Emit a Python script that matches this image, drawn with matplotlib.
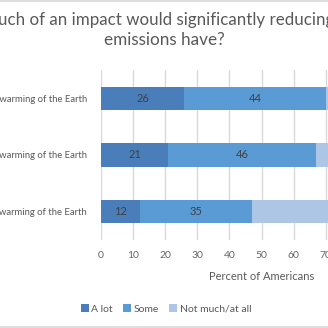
import matplotlib
matplotlib.use("Agg")
import matplotlib.pyplot as plt
from matplotlib.lines import Line2D
from matplotlib.patches import Patch

plt.rcParams['font.family'] = ['Lato', 'DejaVu Sans']

categories = [
    "U.S. alone on global warming of the Earth",
    "Developed nations on global warming of the Earth",
    "All nations on global warming of the Earth",
]
a_lot = [26, 21, 12]
some = [44, 46, 35]
not_much = [30, 33, 53]
series_names = ["A lot", "Some", "Not much/at all"]
colors = ["#4A7EBB", "#5B9BD5", "#ADC6E6"]
x_ticks = [0, 10, 20, 30, 40, 50, 60, 70, 80, 90, 100]

text_grey = "#595959"
W, H = 328, 328
fig = plt.figure(figsize=(W / 100, H / 100), dpi=100)

# plot area spans beyond the right edge of the canvas
ax = fig.add_axes([101 / W, 88 / H, 321 / W, 170 / H])

ypos = list(range(len(categories)))
left = [0] * len(categories)
for vals, name, col in zip([a_lot, some, not_much], series_names, colors):
    bars = ax.barh(ypos, vals, left=left, height=0.41, color=col, label=name, zorder=3)
    for b, v in zip(bars, vals):
        ax.text(b.get_x() + b.get_width() / 2, b.get_y() + b.get_height() / 2, str(v),
                ha="center", va="center", fontsize=8, color="#404040", zorder=4)
    left = [l + v for l, v in zip(left, vals)]

ax.set_xlim(0, 100)
ax.set_ylim(len(categories) - 0.5, -0.5)
ax.set_xticks(x_ticks)
ax.set_xticklabels([str(t) for t in x_ticks], fontsize=7.5, color="#666666")
ax.set_yticks(ypos)
ax.set_yticklabels(categories, fontsize=6.8, color=text_grey)
ax.tick_params(axis="both", length=0)
ax.tick_params(axis="x", pad=8)
ax.tick_params(axis="y", pad=10)
ax.grid(axis="x", color="#D9D9D9", linewidth=1, zorder=0)
for s in ax.spines.values():
    s.set_visible(False)
ax.set_xlabel("Percent of Americans", fontsize=8, color=text_grey, labelpad=8)

# title
fig.text(334 / W, 1 - 25 / H, "How much of an impact would significantly reducing",
         ha="right", va="baseline", fontsize=12.2, color=text_grey)
fig.text(164 / W, 1 - 45 / H, "emissions have?",
         ha="center", va="baseline", fontsize=12.3, color=text_grey)

# legend
handles = [Patch(facecolor=c, edgecolor="none") for c in colors]
fig.legend(handles, series_names, loc="center", bbox_to_anchor=(166 / W, 1 - 309 / H),
           ncol=3, frameon=False, fontsize=7.5, labelcolor=text_grey,
           handlelength=0.75, handleheight=0.75, handletextpad=0.25, columnspacing=1.0)

# chart border
fig.add_artist(Line2D([0, 1], [1 - 0.5 / H, 1 - 0.5 / H], color="#D9D9D9", linewidth=1.2,
                      transform=fig.transFigure))
fig.add_artist(Line2D([0, 1], [1 - 326.5 / H, 1 - 326.5 / H], color="#D9D9D9", linewidth=1.2,
                      transform=fig.transFigure))

fig.savefig("out.png", dpi=100)
